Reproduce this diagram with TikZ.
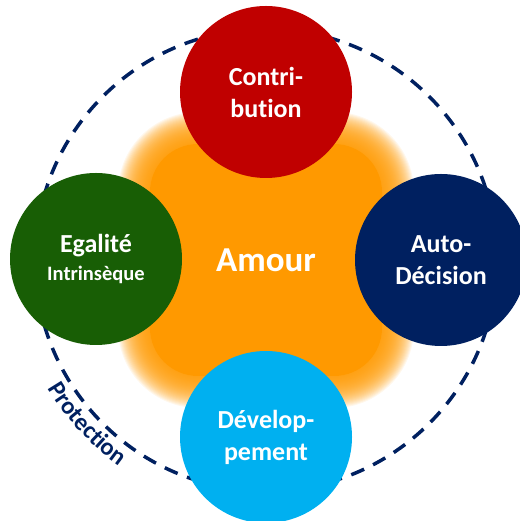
\documentclass[tikz,border=0pt]{standalone}
\usepackage{fontspec}
\setmainfont[Ligatures=NoCommon]{Carlito}
\usetikzlibrary{decorations.text}
\definecolor{amourorange}{HTML}{FF9900}
\definecolor{contribred}{HTML}{C00000}
\definecolor{autonavy}{HTML}{002060}
\definecolor{devblue}{HTML}{00B0F0}
\definecolor{egalgreen}{HTML}{185E05}
\newcommand\protfont{\color{autonavy}\bfseries\fontsize{24.5}{24.5}\selectfont}
\tikzset{
  valeur/.style={circle,minimum size=172pt,inner sep=0pt,text=white,align=center,
    font=\bfseries\fontsize{26}{32}\selectfont},
  protline/.style={draw=autonavy,line width=3.5pt,dash pattern=on 14pt off 10pt}
}

\begin{document}
\begin{tikzpicture}[x=1pt,y=1pt]
        \useasboundingbox (0,0) rectangle (519,521);
        % halo orange
        \foreach \d in {32,31,...,1}{
          \pgfmathsetmacro\rc{48+\d}
          \fill[amourorange,fill opacity=0.075,rounded corners=\rc pt]
            ({150-\d},{145-\d}) rectangle ({382+\d},{377+\d});
        }
        \fill[amourorange,rounded corners=48pt](150,145) rectangle (382,377);
        \draw[protline](266,261) circle (231);
        \path[decorate,decoration={text along path,text align=center,
          text={|\protfont|Protection}}]
          (266,261) ++(200:253) arc (200:245:253);
        \node [font=\bfseries\fontsize{35}{40}\selectfont,text=white](amour)at(266,261){Amour};
        \node [valeur,fill=contribred](contrib)at(266,429){Contri-\\bution};
        \node [valeur,fill=egalgreen](egal)at(96,262){Egalité\\[-4pt]{\fontsize{20.5}{24}\selectfont Intrinsèque}};
        \node [valeur,fill=autonavy](auto)at(441,261){Auto-\\Décision};
        \node [valeur,fill=devblue](dev)at(266,84){Dévelop-\\pement};
\end{tikzpicture}
\end{document}
